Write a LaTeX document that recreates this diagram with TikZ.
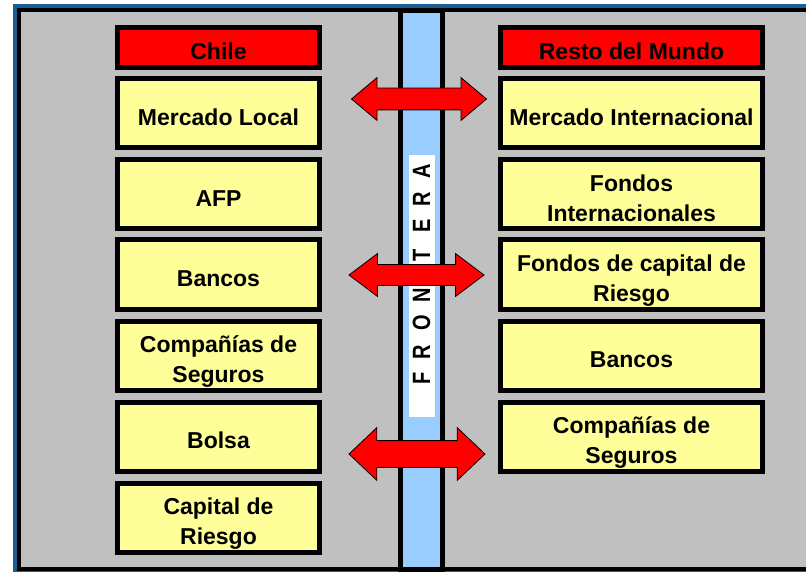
\documentclass[tikz,border=0pt]{standalone}
\usepackage{fontspec}
\setmainfont{Liberation Sans}
\usetikzlibrary{shapes.arrows}
\definecolor{marco}{RGB}{25,95,145}
\definecolor{fondo}{RGB}{192,192,192}
\definecolor{rojo}{RGB}{255,0,0}
\definecolor{amarillo}{RGB}{255,255,153}
\definecolor{celeste}{RGB}{153,204,255}
\newcommand{\arriba}{\rule{0pt}{29.5pt}}
\newcommand{\abajo}{\rule[-5pt]{0pt}{5pt}}
\tikzset{
  caja/.style={draw, line width=5pt, fill=amarillo, minimum height=69pt, align=center,
    font=\fontsize{23}{30}\selectfont\bfseries, inner sep=0pt,
    execute at begin node={\arriba}, execute at end node={\abajo}},
  cajaiz/.style={caja, minimum width=202pt},
  cajader/.style={caja, minimum width=262pt},
  titulo/.style={fill=rojo, minimum height=40pt},
  flecha/.style={shape=double arrow, draw, line width=0.8pt, fill=rojo, inner xsep=0pt,
    minimum height=135pt},
  letrafront/.style={rotate=90, inner sep=0pt, font=\fontsize{20}{20}\selectfont\bfseries}
}
\begin{document}
\begin{tikzpicture}[x=1pt,y=-1pt]
  \useasboundingbox (0,0) rectangle (806,572);
  % marco
  \fill[marco] (13,4) rectangle (812,576);
  \filldraw[fill=fondo, line width=4pt] (19,10.5) rectangle (812,569);
  % frontera
  \filldraw[fill=celeste, line width=5pt] (400.5,10.5) rectangle (442.5,569);
  \fill[white] (408.5,155) rectangle (434.5,417);
  \foreach \letra/\y in {F/378,R/352,O/323,N/295,T/255,E/226,R/199,A/171}
    \node[letrafront] (front\y) at (421.5,\y) {\scalebox{1}[1.25]{\letra}};
  % Chile
  \node[cajaiz, titulo] (chile) at (218.5,47.5) {Chile};
  \node[cajaiz] (local) at (218.5,113.5) {Mercado Local};
  \node[cajaiz] (afp) at (218.5,194.5) {AFP};
  \node[cajaiz] (bancos) at (218.5,274.5) {Bancos};
  \node[cajaiz] (seguros) at (218.5,355.5) {\arriba Compañías de\\Seguros\abajo};
  \node[cajaiz] (bolsa) at (218.5,436.5) {Bolsa};
  \node[cajaiz] (capital) at (218.5,517.5) {\arriba Capital de\\Riesgo\abajo};
  % resto del mundo
  \node[cajader, titulo] (resto) at (631.5,47.5) {Resto del Mundo};
  \node[cajader] (internacional) at (631.5,113.5) {Mercado Internacional};
  \node[cajader] (fondos) at (631.5,194.5) {\arriba Fondos\\Internacionales\abajo};
  \node[cajader] (fondosriesgo) at (631.5,274.5) {\arriba Fondos de capital de\\Riesgo\abajo};
  \node[cajader] (bancosext) at (631.5,355.5) {Bancos};
  \node[cajader] (segurosext) at (631.5,436.5) {\arriba Compañías de\\Seguros\abajo};
  % flechas
  \node[flecha, inner ysep=10.5pt, double arrow head extend=10.5pt, double arrow tip angle=80] (flecha1) at (419,99) {};
  \node[flecha, inner ysep=10pt, double arrow head extend=11pt, double arrow tip angle=74] (flecha2) at (416.5,275) {};
  \node[flecha, inner ysep=13pt, double arrow head extend=13pt, double arrow tip angle=87, minimum height=136pt] (flecha3) at (417,454) {};
\end{tikzpicture}
\end{document}
